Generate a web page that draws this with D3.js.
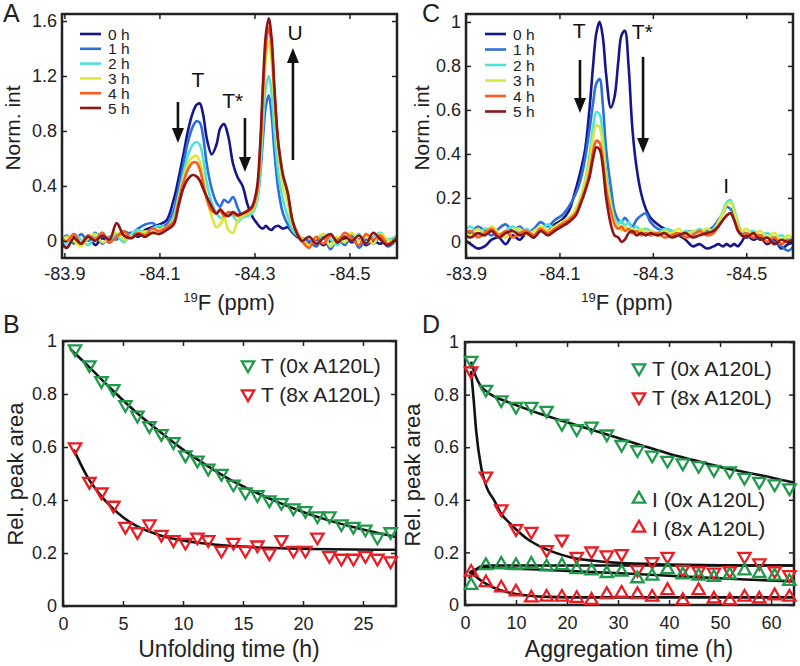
<!DOCTYPE html>
<html>
<head>
<meta charset="utf-8">
<title>19F NMR unfolding / aggregation</title>
<style>
body { margin: 0; background: #fff; }
svg { display: block; font-family: "Liberation Sans", Arial, Helvetica, sans-serif; }
.box { fill: none; stroke: #222; stroke-width: 2.5; }
.tick line { stroke: #222; stroke-width: 1.5; }
.tick text { fill: #222; }
</style>
<script src="https://d3js.org/d3.v7.min.js"></script>
</head>
<body>
<svg id="fig" width="800" height="666"></svg>
<script>
// ---- spectra, panel A (0x A120L) ----
var hours = ["0 h", "1 h", "2 h", "3 h", "4 h", "5 h"];
var hourColors = ["#16168c", "#2c6fda", "#4fe2d6", "#dbe83a", "#ff5b1e", "#8c1616"];

var ppmA = [-83.89, -83.905, -83.92, -83.935, -83.95, -83.965, -83.98, -83.995, -84.01, -84.025,
	-84.04, -84.055, -84.07, -84.085, -84.10, -84.115, -84.13, -84.14, -84.15, -84.16,
	-84.17, -84.178, -84.185, -84.192, -84.20, -84.21, -84.22, -84.228, -84.236, -84.245,
	-84.255, -84.265, -84.275, -84.285, -84.295, -84.305, -84.312, -84.318, -84.324, -84.330,
	-84.336, -84.342, -84.35, -84.36, -84.37, -84.38, -84.39, -84.40, -84.415, -84.43,
	-84.445, -84.46, -84.475, -84.49, -84.505, -84.52, -84.535, -84.55, -84.565, -84.58, -84.60];

var specA0 = [0.02,-0.05,0.03,-0.02,0.04,-0.03,0.02,-0.01,0.05,0.01,0.06,0.03,0.08,0.10,0.12,0.15,
	0.30,0.45,0.62,0.80,0.93,0.99,1.00,0.92,0.74,0.63,0.70,0.82,0.85,0.76,0.56,0.46,0.40,0.27,0.18,0.13,
	0.10,0.09,0.11,0.09,0.08,0.10,0.11,0.09,0.10,0.06,0.03,0.01,
	-0.02,0.01,-0.03,0.00,-0.02,0.02,-0.01,0.01,-0.03,0.00,-0.02,0.01,0.00];
var specA1 = [-0.03,0.04,-0.02,0.05,0.00,0.06,-0.02,0.03,0.01,0.07,0.05,0.09,0.12,0.13,0.10,0.12,
	0.22,0.38,0.55,0.72,0.83,0.87,0.86,0.76,0.55,0.38,0.28,0.25,0.30,0.28,0.32,0.24,0.18,0.20,0.22,0.30,
	0.48,0.75,0.98,1.06,0.92,0.65,0.38,0.20,0.12,0.07,0.04,0.02,
	0.00,-0.04,0.03,-0.06,0.02,-0.03,0.04,-0.05,0.01,-0.02,0.03,-0.04,0.01];
var specA2 = [0.04,-0.02,0.05,0.01,-0.03,0.03,0.06,0.00,0.04,-0.01,0.05,0.08,0.06,0.09,0.11,0.10,
	0.18,0.32,0.48,0.62,0.70,0.72,0.70,0.60,0.42,0.28,0.20,0.17,0.16,0.20,0.18,0.14,0.17,0.18,0.20,0.28,
	0.50,0.85,1.12,1.20,1.08,0.80,0.50,0.30,0.18,0.08,0.04,0.01,
	0.03,-0.02,0.05,0.01,-0.03,0.04,0.00,0.05,-0.02,0.03,0.06,0.01,0.04];
var specA3 = [-0.02,0.03,0.00,-0.04,0.02,0.05,-0.01,0.02,0.06,0.01,0.03,0.05,0.07,0.05,0.08,0.10,
	0.15,0.30,0.45,0.56,0.61,0.62,0.58,0.46,0.30,0.18,0.10,0.12,0.18,0.08,0.06,0.15,0.18,0.20,0.22,0.32,
	0.60,1.00,1.32,1.45,1.32,1.00,0.66,0.40,0.28,0.12,0.05,0.02,
	-0.03,0.02,0.05,-0.04,0.03,-0.01,0.06,0.00,0.04,-0.02,0.05,0.01,-0.01];
var specA4 = [0.03,0.00,0.05,-0.02,0.04,0.01,0.06,-0.01,0.03,0.07,0.02,0.06,0.04,0.09,0.07,0.10,
	0.14,0.28,0.42,0.52,0.57,0.57,0.52,0.42,0.30,0.22,0.20,0.22,0.18,0.21,0.20,0.18,0.20,0.21,0.24,0.35,
	0.65,1.08,1.42,1.55,1.42,1.08,0.72,0.48,0.35,0.15,0.06,0.00,
	-0.05,0.03,-0.02,0.04,0.00,0.06,0.02,-0.03,0.05,0.01,0.04,-0.02,0.03];
var specA5 = [-0.01,-0.05,0.02,-0.02,0.03,0.00,0.04,0.01,0.13,0.04,0.02,0.05,0.03,0.06,0.05,0.08,
	0.12,0.25,0.38,0.45,0.48,0.47,0.44,0.38,0.32,0.25,0.20,0.23,0.20,0.18,0.21,0.19,0.20,0.22,0.25,0.38,
	0.70,1.15,1.50,1.62,1.48,1.12,0.72,0.48,0.35,0.15,0.05,0.00,
	0.03,-0.02,0.02,0.05,-0.01,0.03,0.00,0.04,-0.02,0.06,0.01,-0.03,0.02];

// ---- spectra, panel C (8x A120L) ----
var ppmC = [-83.89, -83.91, -83.925, -83.94, -83.955, -83.97, -83.985, -84.0, -84.015, -84.03,
	-84.045, -84.06, -84.075, -84.09, -84.105, -84.12, -84.135, -84.145, -84.155, -84.165,
	-84.172, -84.179, -84.186, -84.193, -84.20, -84.21, -84.218, -84.226, -84.233, -84.24,
	-84.248, -84.256, -84.265, -84.275, -84.285, -84.295, -84.31, -84.325, -84.34, -84.355,
	-84.37, -84.385, -84.40, -84.415, -84.43, -84.44, -84.45, -84.458, -84.466, -84.474,
	-84.482, -84.49, -84.50, -84.515, -84.53, -84.545, -84.56, -84.575, -84.59, -84.605];

var specC0 = [0.02,-0.01,-0.03,-0.02,0.01,0.02,-0.01,0.03,0.01,0.04,0.02,0.06,0.05,0.08,0.10,0.14,
	0.24,0.32,0.42,0.62,0.80,0.95,1.00,0.93,0.76,0.61,0.66,0.82,0.94,0.96,0.80,0.52,0.34,0.22,0.15,0.11,
	0.08,0.06,0.05,0.03,0.01,-0.02,-0.01,-0.03,-0.02,-0.01,-0.02,-0.01,-0.02,-0.01,-0.02,0.00,0.03,0.01,
	0.02,-0.01,0.01,-0.03,-0.01,0.00];
var specC1 = [0.06,0.04,0.07,0.05,0.03,0.06,0.08,0.05,0.07,0.04,0.06,0.09,0.07,0.10,0.12,0.16,
	0.22,0.28,0.38,0.52,0.63,0.72,0.74,0.62,0.42,0.25,0.14,0.10,0.09,0.11,0.09,0.07,0.10,0.12,0.13,0.09,
	0.06,0.05,0.04,0.03,0.04,0.05,0.04,0.05,0.07,0.10,0.13,0.16,0.15,0.12,0.07,0.04,0.02,0.03,
	0.01,0.02,0.00,-0.02,-0.04,-0.01];
var specC2 = [0.04,0.07,0.03,0.06,0.05,0.02,0.05,0.07,0.04,0.06,0.03,0.05,0.08,0.06,0.09,0.10,
	0.15,0.20,0.28,0.40,0.52,0.59,0.58,0.48,0.32,0.18,0.11,0.08,0.10,0.07,0.09,0.06,0.07,0.05,0.06,0.05,
	0.04,0.06,0.05,0.03,0.05,0.04,0.06,0.04,0.06,0.09,0.14,0.18,0.19,0.15,0.09,0.05,0.04,0.05,
	0.03,0.04,0.02,0.03,0.01,0.02];
var specC3 = [0.05,0.03,0.06,0.04,0.07,0.04,0.02,0.05,0.06,0.03,0.05,0.07,0.05,0.07,0.09,0.11,
	0.15,0.20,0.27,0.37,0.47,0.53,0.52,0.43,0.28,0.16,0.09,0.07,0.05,0.07,0.05,0.06,0.04,0.06,0.04,0.05,
	0.03,0.05,0.04,0.06,0.03,0.05,0.04,0.06,0.05,0.09,0.13,0.17,0.18,0.14,0.08,0.05,0.06,0.03,
	0.05,0.02,0.04,0.01,0.03,0.00];
var specC4 = [0.03,0.05,0.02,0.04,0.06,0.03,0.05,0.02,0.04,0.05,0.03,0.06,0.04,0.06,0.08,0.10,
	0.13,0.18,0.24,0.32,0.41,0.46,0.45,0.37,0.24,0.14,0.08,0.06,0.07,0.05,0.06,0.04,0.05,0.03,0.04,0.03,
	0.04,0.02,0.03,0.04,0.02,0.03,0.05,0.03,0.04,0.07,0.10,0.12,0.13,0.10,0.06,0.03,0.04,0.02,
	0.03,0.00,0.02,-0.01,0.01,0.00];
var specC5 = [0.04,0.02,0.04,0.03,0.05,0.02,0.04,0.05,0.03,0.04,0.02,0.05,0.03,0.05,0.07,0.09,
	0.12,0.17,0.23,0.30,0.38,0.43,0.42,0.34,0.20,0.08,0.03,0.02,0.00,0.01,0.04,0.05,0.03,0.04,0.03,0.04,
	0.03,0.04,0.02,0.03,0.04,0.02,0.03,0.04,0.05,0.07,0.10,0.12,0.13,0.10,0.05,0.03,0.02,0.04,
	0.01,0.02,-0.01,0.01,0.00,0.02];

// ---- relative peak areas, panel B (unfolding) ----
var timeB = [1.0, 2.2, 3.2, 4.2, 5.2, 6.2, 7.2, 8.2, 9.2, 10.2, 11.2, 12.1, 13.2, 14.2, 15.2, 16.2,
	17.2, 18.2, 19.2, 20.2, 21.2, 22.2, 23.2, 24.2, 25.2, 26.2, 27.3];
var areaB_T0 = [0.97,0.91,0.85,0.82,0.76,0.72,0.68,0.65,0.62,0.57,0.55,0.52,0.50,0.46,0.43,0.42,
	0.40,0.39,0.37,0.36,0.34,0.34,0.31,0.30,0.29,0.26,0.28];
var areaB_T8 = [0.60,0.47,0.43,0.38,0.30,0.28,0.31,0.27,0.25,0.24,0.26,0.25,0.21,0.24,0.21,0.23,
	0.20,0.25,0.21,0.21,0.26,0.19,0.18,0.18,0.19,0.18,0.17];
var fitB_T0_t = [0.6, 2, 4, 6, 8, 10, 12, 14, 16, 18, 20, 22, 24, 26, 28];
var fitB_T0_v = [0.97, 0.91, 0.82, 0.735, 0.66, 0.59, 0.53, 0.475, 0.43, 0.39, 0.355, 0.325, 0.30, 0.278, 0.258];
var fitB_T8_t = [0.9, 2, 3, 4, 5, 6, 8, 10, 12, 15, 20, 28];
var fitB_T8_v = [0.59, 0.49, 0.425, 0.375, 0.335, 0.305, 0.268, 0.247, 0.235, 0.224, 0.216, 0.212];

// ---- relative peak areas, panel D (aggregation) ----
var timeD = [1.2, 4.1, 7.1, 10.0, 13.0, 16.0, 19.0, 21.9, 24.8, 27.8, 30.7, 33.8, 36.7, 39.7, 42.7,
	45.8, 48.8, 51.9, 54.8, 57.7, 60.7, 63.6];
var areaD_T0 = [0.93,0.82,0.78,0.755,0.755,0.74,0.69,0.67,0.68,0.65,0.61,0.59,0.57,0.55,0.54,0.53,
	0.515,0.51,0.485,0.47,0.46,0.445];
var areaD_T8 = [0.89,0.49,0.365,0.29,0.28,0.21,0.25,0.185,0.205,0.19,0.195,0.135,0.165,0.185,0.135,
	0.13,0.125,0.13,0.185,0.16,0.13,0.115];
var areaD_I0 = [0.075,0.15,0.155,0.15,0.155,0.145,0.15,0.135,0.13,0.12,0.125,0.10,0.11,0.135,0.115,
	0.11,0.105,0.115,0.13,0.12,0.11,0.09];
var areaD_I8 = [0.125,0.085,0.065,0.05,0.027,0.03,0.03,0.025,0.018,0.04,0.045,0.04,0.03,0.055,0.017,
	0.055,0.023,0.017,0.03,0.023,0.035,0.03];
var fitD_T0_t = [1.2, 2, 3, 4, 6, 8, 10, 15, 20, 25, 30, 35, 40, 45, 50, 55, 60, 64.5];
var fitD_T0_v = [0.925, 0.875, 0.835, 0.815, 0.79, 0.775, 0.76, 0.725, 0.695, 0.665, 0.635, 0.605, 0.575, 0.55, 0.525, 0.505, 0.485, 0.465];
var fitD_T8_t = [1.2, 1.7, 2.2, 3.2, 4.2, 5.8, 7, 9, 12.3, 14.5, 17.5, 21, 25.3, 30, 40, 50, 64.5];
var fitD_T8_v = [0.89, 0.78, 0.66, 0.52, 0.45, 0.395, 0.35, 0.307, 0.25, 0.225, 0.2, 0.18, 0.168, 0.16, 0.154, 0.151, 0.15];
var fitD_rise_t = [0.8, 1.5, 2.5, 3.5, 5, 10, 20, 40, 64.5];
var fitD_rise_v = [0.10, 0.12, 0.14, 0.148, 0.15, 0.15, 0.15, 0.15, 0.15];
var fitD_I0_t = [0.8, 2, 4, 8, 15, 25, 31.5, 45, 55, 64.5];
var fitD_I0_v = [0.12, 0.135, 0.142, 0.14, 0.134, 0.125, 0.12, 0.106, 0.097, 0.09];
var fitD_I8_t = [1, 2, 3, 4, 5, 6, 8, 10, 12.7, 16, 25, 64.5];
var fitD_I8_v = [0.13, 0.11, 0.095, 0.082, 0.072, 0.063, 0.05, 0.042, 0.035, 0.031, 0.029, 0.029];

// ---- ticks and labels ----
var ppmTicks = [-83.9, -84.1, -84.3, -84.5];
var intTicksA = [0, 0.4, 0.8, 1.2, 1.6];
var intTicksC = [0, 0.2, 0.4, 0.6, 0.8, 1];
var areaTicks = [0, 0.2, 0.4, 0.6, 0.8, 1];
var timeTicksB = [0, 5, 10, 15, 20, 25];
var timeTicksD = [0, 10, 20, 30, 40, 50, 60];
var legendB = ["T (0x A120L)", "T (8x A120L)"];
var legendD = ["T (0x A120L)", "T (8x A120L)", "I (0x A120L)", "I (8x A120L)"];

var GREEN = "#1f9a4b", RED = "#ec1c24";

var svg = d3.select("#fig");

function panel(name, box, xDom, yDom) {
	var p = {box: box, name: name};
	p.x = d3.scaleLinear().domain(xDom).range([box.x0, box.x1]);
	p.y = d3.scaleLinear().domain(yDom).range([box.y1, box.y0]);
	p.g = svg.append("g").attr("id", name);
	svg.append("clipPath").attr("id", "clip_" + name).append("rect")
		.attr("x", box.x0).attr("y", box.y0)
		.attr("width", box.x1 - box.x0).attr("height", box.y1 - box.y0);
	p.plot = p.g.append("g").attr("clip-path", "url(#clip_" + name + ")");
	return p;
}

function axes(p, xt, yt, xfmt, xpad, ypad) {
	var b = p.box;
	var fs = 18;
	function style(g, labels) {
		g.select(".domain").remove();
		g.attr("font-family", null).attr("font-size", fs);
		if (!labels) g.selectAll("text").remove();
	}
	p.g.append("g").attr("transform", "translate(0," + b.y1 + ")")
		.call(d3.axisBottom(p.x).tickValues(xt).tickFormat(xfmt).tickSizeInner(-5).tickSizeOuter(0).tickPadding(xpad))
		.call(function(g) { style(g, true); });
	p.g.append("g").attr("transform", "translate(0," + b.y0 + ")")
		.call(d3.axisTop(p.x).tickValues(xt).tickSizeInner(-5).tickSizeOuter(0))
		.call(function(g) { style(g, false); });
	p.g.append("g").attr("transform", "translate(" + b.x0 + ",0)")
		.call(d3.axisLeft(p.y).tickValues(yt).tickFormat(function(d) { return String(d); }).tickSizeInner(-5).tickSizeOuter(0).tickPadding(ypad))
		.call(function(g) { style(g, true); });
	p.g.append("g").attr("transform", "translate(" + b.x1 + ",0)")
		.call(d3.axisRight(p.y).tickValues(yt).tickSizeInner(-5).tickSizeOuter(0))
		.call(function(g) { style(g, false); });
	p.g.append("rect").attr("class", "box")
		.attr("x", b.x0).attr("y", b.y0)
		.attr("width", b.x1 - b.x0).attr("height", b.y1 - b.y0);
}

function text(x, y, s, size, anchor) {
	return svg.append("text").attr("x", x).attr("y", y)
		.attr("font-size", size).attr("fill", "#222")
		.attr("text-anchor", anchor || "start").text(s);
}

function yTitle(x, y, s, size) {
	svg.append("text").attr("transform", "translate(" + x + "," + y + ") rotate(-90)")
		.attr("font-size", size).attr("fill", "#222").attr("text-anchor", "middle").text(s);
}

function ppmTitle(x, y) {
	var t = svg.append("text").attr("x", x).attr("y", y).attr("font-size", 22)
		.attr("fill", "#222").attr("text-anchor", "middle");
	t.append("tspan").attr("font-size", 13).attr("dy", -8).text("19");
	t.append("tspan").attr("dy", 8).text("F (ppm)");
}

function spectra(p, ppm, series, legendX, legendY, legendStep) {
	series.forEach(function(vals, i) {
		var line = d3.line()
			.x(function(d, j) { return p.x(ppm[j]); })
			.y(function(d) { return p.y(d); })
			.curve(d3.curveCatmullRom.alpha(0.5));
		p.plot.append("path").datum(vals)
			.attr("d", line).attr("fill", "none")
			.attr("stroke", hourColors[i]).attr("stroke-width", 2.6)
			.attr("stroke-linejoin", "round");
	});
	hours.forEach(function(h, i) {
		var yy = legendY + i * legendStep;
		p.g.append("line").attr("x1", legendX).attr("x2", legendX + 21)
			.attr("y1", yy).attr("y2", yy)
			.attr("stroke", hourColors[i]).attr("stroke-width", 2.6);
		p.g.append("text").attr("x", legendX + 28).attr("y", yy + 5.5)
			.attr("font-size", 15.5).attr("fill", "#222").text(h);
	});
}

function arrow(p, xv, from, to) {
	var x = p.x(xv), y0 = p.y(from), y1 = p.y(to);
	var dir = y1 > y0 ? 1 : -1;
	p.g.append("line").attr("x1", x).attr("x2", x).attr("y1", y0).attr("y2", y1 - dir * 10)
		.attr("stroke", "#111").attr("stroke-width", 2.6);
	p.g.append("path")
		.attr("d", "M" + (x - 6) + "," + (y1 - dir * 15) + "L" + (x + 6) + "," + (y1 - dir * 15) + "L" + x + "," + y1 + "Z")
		.attr("fill", "#111");
}

function label(p, xv, yv, s, anchor) {
	p.g.append("text").attr("x", p.x(xv)).attr("y", p.y(yv))
		.attr("font-size", 21).attr("fill", "#111")
		.attr("text-anchor", anchor || "middle").text(s);
}

var triangle = d3.symbol().type(d3.symbolTriangle).size(66);

function markers(p, ts, vs, color, down) {
	p.g.append("g").selectAll("path").data(vs).join("path")
		.attr("d", triangle)
		.attr("transform", function(d, i) {
			return "translate(" + p.x(ts[i]) + "," + p.y(d) + ")" + (down ? " rotate(180)" : "");
		})
		.attr("fill", "none").attr("stroke", color).attr("stroke-width", 2.3);
}

function fit(p, ts, vs) {
	p.plot.append("path").datum(vs)
		.attr("d", d3.line()
			.x(function(d, i) { return p.x(ts[i]); })
			.y(function(d) { return p.y(d); })
			.curve(d3.curveMonotoneX))
		.attr("fill", "none").attr("stroke", "#111").attr("stroke-width", 2.6);
}

function legendMarkers(p, items, colors, downs, x, ys) {
	items.forEach(function(s, i) {
		p.g.append("path").attr("d", triangle)
			.attr("transform", "translate(" + x + "," + ys[i] + ")" + (downs[i] ? " rotate(180)" : ""))
			.attr("fill", "none").attr("stroke", colors[i]).attr("stroke-width", 2.3);
		p.g.append("text").attr("x", x + 13).attr("y", ys[i] + 8)
			.attr("font-size", 21).attr("fill", "#222").text(s);
	});
}

var ppmFmt = function(d) { return d.toFixed(1); };

// ---- A ----
var pA = panel("A", {x0: 62, x1: 397, y0: 14, y1: 258}, [-83.895, -84.6], [-0.124, 1.651]);
axes(pA, ppmTicks, intTicksA, ppmFmt, 9, 5);
spectra(pA, ppmA, [specA0, specA1, specA2, specA3, specA4, specA5], 80, 34, 14.8);
label(pA, -84.181, 1.12, "T");
label(pA, -84.232, 0.967, "T*", "start");
label(pA, -84.3855, 1.461, "U");
arrow(pA, -84.139, 1.011, 0.713);
arrow(pA, -84.28, 0.894, 0.501);
arrow(pA, -84.381, 0.589, 1.403);

// ---- C ----
var pC = panel("C", {x0: 466, x1: 793, y0: 14, y1: 258}, [-83.9, -84.6], [-0.073, 1.036]);
axes(pC, ppmTicks, intTicksC, ppmFmt, 9, 5);
spectra(pC, ppmC, [specC0, specC1, specC2, specC3, specC4, specC5], 485, 34, 15.5);
label(pC, -84.142, 0.927, "T");
label(pC, -84.255, 0.922, "T*", "start");
label(pC, -84.457, 0.222, "I");
arrow(pC, -84.144, 0.827, 0.586);
arrow(pC, -84.279, 0.841, 0.404);

// ---- B ----
var pB = panel("B", {x0: 63, x1: 396, y0: 341, y1: 606}, [0, 27.75], [0, 1]);
axes(pB, timeTicksB, areaTicks, function(d) { return String(d); }, 11, 6);
markers(pB, timeB, areaB_T0, GREEN, true);
markers(pB, timeB, areaB_T8, RED, true);
fit(pB, fitB_T0_t, fitB_T0_v);
fit(pB, fitB_T8_t, fitB_T8_v);
legendMarkers(pB, legendB, [GREEN, RED], [true, true], 248, [365, 394]);

// ---- D ----
var pD = panel("D", {x0: 465, x1: 794, y0: 342, y1: 605}, [0, 64.5], [0, 1]);
axes(pD, timeTicksD, areaTicks, function(d) { return String(d); }, 11, 6);
markers(pD, timeD, areaD_T0, GREEN, true);
markers(pD, timeD, areaD_T8, RED, true);
markers(pD, timeD, areaD_I0, GREEN, false);
markers(pD, timeD, areaD_I8, RED, false);
fit(pD, fitD_T0_t, fitD_T0_v);
fit(pD, fitD_T8_t, fitD_T8_v);
fit(pD, fitD_rise_t, fitD_rise_v);
fit(pD, fitD_I0_t, fitD_I0_v);
fit(pD, fitD_I8_t, fitD_I8_v);
legendMarkers(pD, legendD, [GREEN, RED, GREEN, RED], [true, true, false, false], 639, [368, 397, 499, 528]);

// ---- titles and panel letters ----
yTitle(20, 128, "Norm. int", 21);
yTitle(429, 128, "Norm. int", 21);
yTitle(23, 474, "Rel. peak area", 22);
yTitle(420, 475, "Rel. peak area", 22);
ppmTitle(229, 310);
ppmTitle(627, 310);
text(229, 657, "Unfolding time (h)", 23, "middle");
text(629, 657, "Aggregation time (h)", 23, "middle");
text(3, 22, "A", 25);
text(422, 22, "C", 25);
text(3, 333, "B", 25);
text(422, 333, "D", 25);
</script>
</body>
</html>
